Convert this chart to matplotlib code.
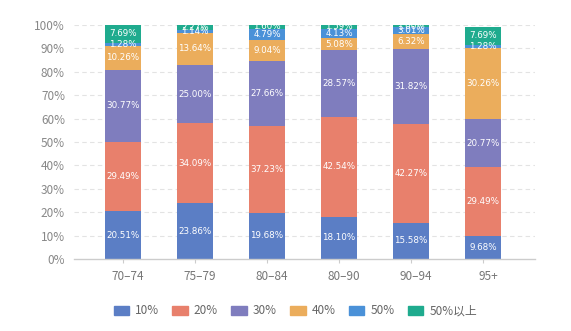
import numpy as np
import matplotlib.pyplot as plt
from matplotlib.patches import FancyBboxPatch
from matplotlib.transforms import ScaledTranslation

plt.rcParams['font.family'] = ['Noto Sans CJK SC', 'DejaVu Sans']

groups = ['70–74', '75–79', '80–84', '80–90', '90–94', '95+']
series = ['10%', '20%', '30%', '40%', '50%', '50%以上']
p10 = [20.51, 23.86, 19.68, 18.10, 15.58, 9.68]
p20 = [29.49, 34.09, 37.23, 42.54, 42.27, 29.49]
p30 = [30.77, 25.00, 27.66, 28.57, 31.82, 20.77]
p40 = [10.26, 13.64, 9.04, 5.08, 6.32, 30.26]
p50 = [1.28, 1.14, 4.79, 4.13, 3.01, 1.28]
p50up = [7.69, 2.27, 1.60, 1.59, 1.00, 7.69]
colors = ['#5b7ec5', '#e8806c', '#7f7dbe', '#ebad5c', '#4a91d8', '#1fab8e']

fig = plt.figure(figsize=(5.71, 3.31), dpi=100)
ax = fig.add_axes([74 / 571, 1 - 259 / 331, (535 - 74) / 571, (259 - 25) / 331])

x = np.arange(len(groups))
bottom = np.zeros(len(groups))
for vals, col in zip([p10, p20, p30, p40, p50, p50up], colors):
    vals = np.array(vals)
    bars = ax.bar(x, vals, 0.49, bottom=bottom, color=col, zorder=2)
    ax.bar_label(bars, labels=['%.2f%%' % v for v in vals], label_type='center',
                 color='white', fontsize=6.3, family='DejaVu Sans')
    bottom += vals

ax.set_xlim(-0.68, 5.72)
ax.set_ylim(0, 100)
ax.set_yticks(np.arange(0, 101, 10))
ax.set_yticklabels(['%d%%' % v for v in range(0, 101, 10)])
ax.set_xticks(x)
ax.set_xticklabels(groups)

for v in range(10, 101, 10):
    ax.axhline(v, color='#e3e3e3', lw=0.8, ls=(0, (4, 3)), zorder=1)

for s in ['top', 'right', 'left']:
    ax.spines[s].set_visible(False)
ax.spines['bottom'].set_color('#cccccc')
ax.spines['bottom'].set_linewidth(1)
ax.tick_params(axis='y', length=0, pad=6.5, labelsize=8.5, labelcolor='#888888')
ax.tick_params(axis='x', length=3, color='#cccccc', pad=5, labelsize=8.5,
               labelcolor='#777777')

# nudge the category labels slightly to the right
shift = ScaledTranslation(5 / 100, 0, fig.dpi_scale_trans)
for lbl in ax.get_xticklabels():
    lbl.set_transform(lbl.get_transform() + shift)

handles = [FancyBboxPatch((0, 0), 1, 1, boxstyle='round,pad=0.1', color=c) for c in colors]
fig.legend(handles, series, loc='center', bbox_to_anchor=(0.517, 1 - 311 / 331),
           ncol=6, frameon=False, fontsize=8.5, labelcolor='#666666',
           handlelength=1.3, handleheight=0.7, handletextpad=0.5, columnspacing=1.15)

fig.savefig('out.png', dpi=100)
